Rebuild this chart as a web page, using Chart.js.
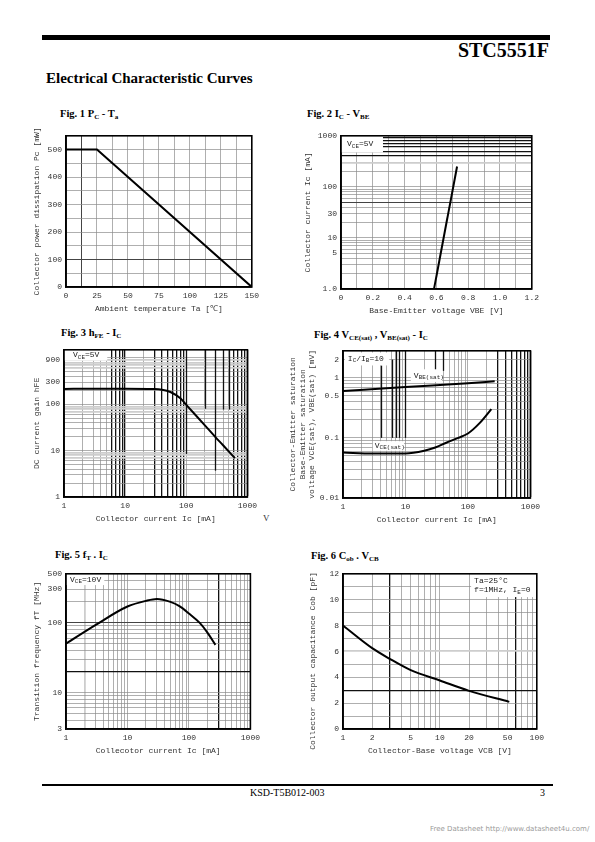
<!DOCTYPE html>
<html>
<head>
<meta charset="utf-8">
<title>STC5551F Electrical Characteristic Curves</title>
<script src="https://cdn.jsdelivr.net/npm/chart.js@4.4.1/dist/chart.umd.min.js"></script>
<style>
  html, body { margin: 0; padding: 0; background: #fff; }
  #page { position: relative; width: 595px; height: 842px; overflow: hidden; background: #fff; }
  .bar { position: absolute; background: #000; }
  .txt { position: absolute; white-space: nowrap; line-height: 1; color: #000; }
  .serif { font-family: "Liberation Serif", "DejaVu Serif", serif; }
  .fig { position: absolute; white-space: nowrap; line-height: 1; font: bold 10.5px "Liberation Serif", serif; }
  .fig sub { font-size: 7px; vertical-align: -2px; line-height: 0; }
  canvas { position: absolute; }
</style>
</head>
<body>
<div id="page">
  <div class="bar" style="left:42px; top:35px; width:508px; height:5px;"></div>
  <div class="txt serif" style="right:46px; top:40px; font-size:20px; font-weight:bold;">STC5551F</div>
  <div class="txt serif" style="left:46px; top:71px; font-size:15px; font-weight:bold;">Electrical Characteristic Curves</div>

  <div class="fig" style="left:60px; top:108px;">Fig. 1 P<sub>C</sub> - T<sub>a</sub></div>
  <div class="fig" style="left:307px; top:108px;">Fig. 2 I<sub>C</sub> - V<sub>BE</sub></div>
  <div class="fig" style="left:61px; top:327px;">Fig. 3 h<sub>FE</sub> - I<sub>C</sub></div>
  <div class="fig" style="left:314px; top:329px;">Fig. 4 V<sub>CE(sat)</sub> , V<sub>BE(sat)</sub> - I<sub>C</sub></div>
  <div class="fig" style="left:55px; top:549px;">Fig. 5 f<sub>T</sub> . I<sub>C</sub></div>
  <div class="fig" style="left:311px; top:550px;">Fig. 6 C<sub>ob</sub> . V<sub>CB</sub></div>

  <canvas id="fig1" width="231" height="187" style="left:32px; top:127px;"></canvas>
  <canvas id="fig2" width="240" height="189" style="left:303px; top:127px;"></canvas>
  <canvas id="fig3" width="229" height="183" style="left:32px; top:341px;"></canvas>
  <canvas id="fig4" width="256" height="183" style="left:288px; top:342px;"></canvas>
  <canvas id="fig5" width="232" height="191" style="left:32px; top:565px;"></canvas>
  <canvas id="fig6" width="240" height="191" style="left:308px; top:565px;"></canvas>

  <div class="txt serif" style="left:263px; top:514px; font-size:9px; color:#333;">V</div>

  <div class="bar" style="left:42px; top:784px; width:511px; height:2px;"></div>
  <div class="txt serif" style="left:250px; top:788px; font-size:10px;">KSD-T5B012-003</div>
  <div class="txt serif" style="left:540px; top:788px; font-size:10px;">3</div>
  <div class="txt" style="left:430px; top:825px; font: 7px 'DejaVu Sans', sans-serif; color:#9a9a9a;">Free Datasheet http://www.datasheet4u.com/</div>
</div>

<script>
// ---- values ----
// Fig.1 Pc - Ta
const fig1Ta = [0, 25, 150];
const fig1Pc = [500, 500, 0];
const fig1XTicks = [0, 25, 50, 75, 100, 125, 150];
const fig1YTicks = [0, 100, 200, 300, 400, 500];

// Fig.2 Ic - Vbe (Vce=5V)
const fig2Vbe = [0.585, 0.73];
const fig2Ic = [1, 250];
const fig2XTicks = [0, 0.2, 0.4, 0.6, 0.8, 1.0, 1.2];
const fig2XText = ['0', '0.2', '0.4', '0.6', '0.8', '1.0', '1.2'];
const fig2YTicks = [1, 5, 10, 30, 100, 1000];
const fig2YText = ['1.0', '5', '10', '30', '100', '1000'];

// Fig.3 hFE - Ic
const fig3Ic = [1, 3, 10, 30, 40, 55, 80, 100, 200, 300, 400, 625];
const fig3Hfe = [215, 216, 217, 214, 207, 184, 135, 97, 35.6, 19.6, 13.1, 6.9];
const fig3XTicks = [1, 10, 100, 1000];
const fig3YTicks = [1, 10, 100, 300, 900];

// Fig.4 Vce(sat), Vbe(sat) - Ic
const fig4IcBe = [1, 10, 100, 268];
const fig4VbeSat = [0.60, 0.70, 0.81, 0.87];
const fig4IcCe = [1, 3, 10, 20, 30, 45, 70, 100, 155, 237];
const fig4VceSat = [0.057, 0.055, 0.055, 0.061, 0.069, 0.083, 0.1, 0.118, 0.177, 0.30];
const fig4XTicks = [1, 10, 100, 1000];
const fig4YTicks = [0.01, 0.1, 0.5, 1, 2];

// Fig.5 fT - Ic
const fig5Ic = [1, 3, 10, 20, 30, 50, 70, 100, 150, 200, 270];
const fig5Ft = [50, 92, 170, 205, 218, 198, 172, 135, 99, 72, 48];
const fig5XTicks = [1, 10, 100, 1000];
const fig5YTicks = [3, 10, 100, 300, 500];

// Fig.6 Cob - Vcb
const fig6Vcb = [1, 2, 3, 5, 10, 20, 52];
const fig6Cob = [8.0, 6.25, 5.45, 4.55, 3.75, 2.95, 2.1];
const fig6XTicks = [1, 2, 5, 10, 20, 50, 100];
const fig6YTicks = [0, 2, 4, 6, 8, 10, 12];

const MONO = '"Liberation Mono", "DejaVu Sans Mono", monospace';

function near(a, b) { return Math.abs(a - b) <= Math.abs(b) * 1e-6 + 1e-9; }
function has(list, v) { return (list || []).some(t => near(v, t)); }
function pts(xs, ys) { return xs.map((x, i) => ({ x, y: ys[i] })); }

// 1..9 x 10^n grid for log axes
function logSteps(min, max) {
  const out = [];
  for (let e = Math.floor(Math.log10(min)); e <= Math.ceil(Math.log10(max)); e++) {
    for (let k = 1; k < 10; k++) {
      const v = +(k * Math.pow(10, e)).toPrecision(6);
      if (v >= min * (1 - 1e-9) && v <= max * (1 + 1e-9)) out.push(v);
    }
  }
  return out;
}
function linSteps(min, max, step) {
  const out = [];
  for (let v = min; v <= max + step * 1e-6; v += step) out.push(+v.toFixed(6));
  return out;
}

// text with _{sub} parts
function drawRich(ctx, s, x, y, size) {
  let cx = x;
  s.split(/(_\{[^}]*\})/).filter(Boolean).forEach(p => {
    const sub = p.startsWith('_{');
    const t = sub ? p.slice(2, -1) : p;
    ctx.font = (sub ? size * 0.75 : size) + 'px ' + MONO;
    ctx.fillText(t, cx, sub ? y + size * 0.22 : y);
    cx += ctx.measureText(t).width;
  });
}

// boxed notes + the odd heavy partial grid strokes of the scan
const notesPlugin = {
  id: 'notes',
  beforeDatasetsDraw(chart, args, opts) {
    const { ctx } = chart;
    const xs = chart.scales.x, ys = chart.scales.y;
    (opts.stubs || []).forEach(s => {
      const px = Math.round(xs.getPixelForValue(s[0])) + 0.5;
      ctx.save();
      ctx.strokeStyle = '#111';
      ctx.lineWidth = 1.3;
      ctx.beginPath();
      ctx.moveTo(px, ys.getPixelForValue(s[1]));
      ctx.lineTo(px, ys.getPixelForValue(s[2]));
      ctx.stroke();
      ctx.restore();
    });
    (opts.items || []).forEach(n => {
      const l = xs.getPixelForValue(n.x0), r = xs.getPixelForValue(n.x1);
      const t = ys.getPixelForValue(n.y0), b = ys.getPixelForValue(n.y1);
      ctx.save();
      ctx.fillStyle = '#fff';
      ctx.fillRect(l, t, r - l, b - t);
      ctx.fillStyle = '#222';
      ctx.textBaseline = 'middle';
      const lh = 9.5, h = n.lines.length * lh;
      n.lines.forEach((s, i) => drawRich(ctx, s, l + n.pad, (t + b) / 2 - h / 2 + lh * (i + 0.5), 8));
      ctx.restore();
    });
  }
};

const framePlugin = {
  id: 'frame',
  afterDraw(chart) {
    const { ctx, chartArea: a } = chart;
    ctx.save();
    ctx.strokeStyle = '#000';
    ctx.lineWidth = 1.6;
    ctx.strokeRect(a.left, a.top, a.right - a.left, a.bottom - a.top);
    ctx.restore();
  }
};

function axis(o) {
  const labels = o.text || o.ticks.map(String);
  return {
    type: o.type, min: o.min, max: o.max,
    afterBuildTicks: s => { s.ticks = o.grid.map(v => ({ value: v })); },
    afterFit: s => { if (o.w) s.width = o.w; if (o.h) s.height = o.h; },
    ticks: {
      autoSkip: false, maxRotation: 0, minRotation: 0, padding: 4, color: '#333',
      font: { family: MONO, size: 8 },
      callback: v => { const i = o.ticks.findIndex(t => near(v, t)); return i < 0 ? '' : labels[i]; }
    },
    grid: {
      drawTicks: false,
      color: c => has(o.dark, c.tick.value) ? '#111' : has(o.mid, c.tick.value) ? '#444'
        : has(o.soft, c.tick.value) ? '#cdcdcd' : '#8c8c8c',
      lineWidth: c => has(o.dark, c.tick.value) ? 1.3 : has(o.mid, c.tick.value) ? 1
        : has(o.soft, c.tick.value) ? 1.8 : 0.7
    },
    border: { color: '#000', width: 1.6 },
    title: { display: true, text: o.title, padding: 0, color: '#333', font: { family: MONO, size: 8 } }
  };
}

function makeChart(id, cfg) {
  return new Chart(document.getElementById(id), {
    type: 'line',
    data: {
      datasets: cfg.sets.map(s => ({
        data: s.data, borderColor: '#000', borderWidth: 2, pointRadius: 0, fill: false,
        cubicInterpolationMode: s.smooth ? 'monotone' : 'default', tension: 0
      }))
    },
    options: {
      responsive: false, animation: false, devicePixelRatio: 1,
      layout: { padding: { top: 6, right: 11, left: 0, bottom: 0 } },
      scales: { x: axis(cfg.x), y: axis(cfg.y) },
      plugins: {
        legend: { display: false }, tooltip: { enabled: false },
        notes: { items: cfg.notes || [], stubs: cfg.stubs || [] }
      }
    },
    plugins: [notesPlugin, framePlugin]
  });
}

makeChart('fig1', {
  sets: [{ data: pts(fig1Ta, fig1Pc) }],
  x: { type: 'linear', min: 0, max: 150, grid: linSteps(0, 150, 12.5), ticks: fig1XTicks, h: 27,
       mid: [12.5], title: 'Ambient temperature Ta [℃]' },
  y: { type: 'linear', min: 0, max: 550, grid: linSteps(0, 550, 50), ticks: fig1YTicks, w: 34,
       mid: [100], title: 'Collector power dissipation Pc [mW]' }
});

makeChart('fig2', {
  sets: [{ data: pts(fig2Vbe, fig2Ic) }],
  x: { type: 'linear', min: 0, max: 1.2, grid: linSteps(0, 1.2, 0.1), ticks: fig2XTicks, text: fig2XText,
       h: 27, title: 'Base-Emitter voltage VBE [V]' },
  y: { type: 'logarithmic', min: 1, max: 1000, grid: logSteps(1, 1000), ticks: fig2YTicks, text: fig2YText,
       w: 38, dark: [400, 500, 600, 700, 800, 900], mid: [50], soft: [300],
       title: 'Collector current Ic [mA]' },
  notes: [{ x0: 0, x1: 0.264, y0: 1000, y1: 470, lines: ['V_{CE}=5V'], pad: 6 }]
});

makeChart('fig3', {
  sets: [{ data: pts(fig3Ic, fig3Hfe), smooth: true }],
  x: { type: 'logarithmic', min: 1, max: 1000, grid: logSteps(1, 1000), ticks: fig3XTicks, h: 27,
       dark: [6, 7, 8, 9, 10, 30, 40, 50, 60, 70, 80, 90, 600, 700, 800, 900, 1000],
       title: 'Collector current Ic [mA]' },
  y: { type: 'logarithmic', min: 1, max: 1500, grid: logSteps(1, 1500), ticks: fig3YTicks, w: 32,
       soft: [7, 8, 9, 70, 80, 90, 600, 700, 800, 900], title: 'DC current gain hFE' },
  stubs: [[100, 1500, 8.5], [200, 1500, 80], [300, 1500, 3.7], [400, 1500, 77], [500, 1500, 77]],
  notes: [{ x0: 1, x1: 5.1, y0: 1500, y1: 880, lines: ['V_{CE}=5V'], pad: 9 }]
});

makeChart('fig4', {
  sets: [{ data: pts(fig4IcBe, fig4VbeSat), smooth: true }, { data: pts(fig4IcCe, fig4VceSat), smooth: true }],
  x: { type: 'logarithmic', min: 1, max: 1000, grid: logSteps(1, 1000), ticks: fig4XTicks, h: 27,
       dark: [300, 400, 500, 600, 700, 800, 900, 1000], title: 'Collector current Ic [mA]' },
  y: { type: 'logarithmic', min: 0.01, max: 2.8, grid: logSteps(0.01, 2.8), ticks: fig4YTicks, w: 55,
       title: ['Collector-Emitter saturation', 'Base-Emitter saturation', 'voltage VCE(sat), VBE(sat) [mV]'] },
  stubs: [[4, 1.6, 0.1], [6, 2.0, 0.1], [7, 2.8, 0.1], [8, 2.8, 0.1], [10, 2.8, 0.1], [30, 2.8, 1.15], [40, 2.8, 1.3]],
  notes: [
    { x0: 1.07, x1: 5.5, y0: 2.62, y1: 1.6, lines: ['I_{C}/I_{B}=10'], pad: 3 },
    { x0: 12.2, x1: 38.6, y0: 1.38, y1: 0.85, lines: ['V_{BE(sat)}'], pad: 3 },
    { x0: 3, x1: 9.5, y0: 0.088, y1: 0.061, lines: ['V_{CE(sat)}'], pad: 2 }
  ]
});

makeChart('fig5', {
  sets: [{ data: pts(fig5Ic, fig5Ft), smooth: true }],
  x: { type: 'logarithmic', min: 1, max: 1000, grid: logSteps(1, 1000), ticks: fig5XTicks, h: 27,
       dark: [300], soft: [2], title: 'Collecotor current Ic [mA]' },
  y: { type: 'logarithmic', min: 3, max: 500, grid: logSteps(3, 500), ticks: fig5YTicks, w: 34,
       dark: [20], mid: [100], title: 'Transition frequency fT [MHz]' },
  notes: [{ x0: 1, x1: 4.2, y0: 500, y1: 345, lines: ['V_{CE}=10V'], pad: 4 }]
});

makeChart('fig6', {
  sets: [{ data: pts(fig6Vcb, fig6Cob), smooth: true }],
  x: { type: 'logarithmic', min: 1, max: 100, grid: logSteps(1, 100), ticks: fig6XTicks, h: 27,
       dark: [3, 60], title: 'Collector-Base voltage VCB [V]' },
  // trailing spaces push the long title down, as in the scan
  y: { type: 'linear', min: 0, max: 12, grid: linSteps(0, 12, 1), ticks: fig6YTicks, w: 35,
       dark: [3], soft: [6], title: 'Collector output capacitance Cob [pF]    ' },
  notes: [{ x0: 21, x1: 100, y0: 12, y1: 10.2, lines: ['Ta=25°C', 'f=1MHz, I_{E}=0'], pad: 3 }]
});
</script>
</body>
</html>
